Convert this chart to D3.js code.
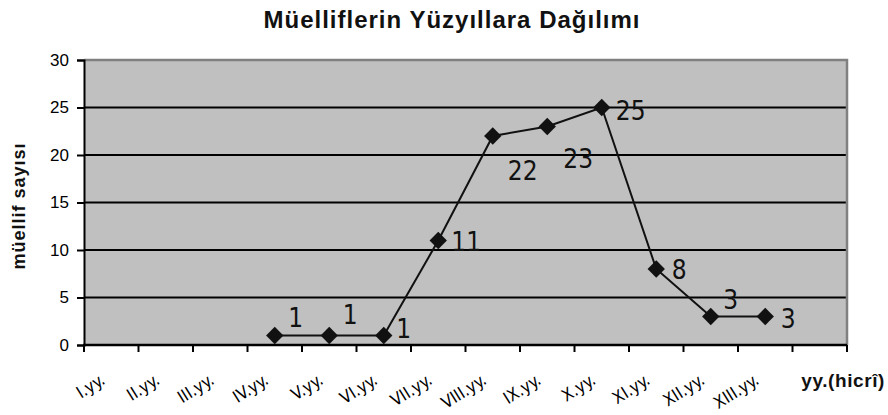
<!DOCTYPE html>
<html>
<head>
<meta charset="utf-8">
<script src="https://cdn.jsdelivr.net/npm/d3@7"></script>
<style>
  body { margin: 0; background: #fff; }
  svg { display: block; }
</style>
</head>
<body>
<div class="canvas"></div>
<script>
// chart data
const centuries = ['I.yy.', 'II.yy.', 'III.yy.', 'IV.yy.', 'V.yy.', 'VI.yy.', 'VII.yy.',
  'VIII.yy.', 'IX.yy.', 'X.yy.', 'XI.yy.', 'XII.yy.', 'XIII.yy.', ''];
const authors = [null, null, null, 1, 1, 1, 11, 22, 23, 25, 8, 3, 3, null];
const yTicks = [0, 5, 10, 15, 20, 25, 30];

// label nudges (px) - where each value label sits beside its marker
const labelNudge = [null, null, null, [21, -9], [21, -12], [20, 2], [28, 10],
  [30, 44], [31, 41], [29, 12], [23, 10], [20, -8], [23, 11], null];

const dims = { width: 888, height: 415 };
const plot = { left: 84, right: 847, top: 60, bottom: 345 };

const svg = d3.select('.canvas')
  .append('svg')
  .attr('width', dims.width)
  .attr('height', dims.height);

const x = d3.scaleBand()
  .domain(d3.range(centuries.length))
  .range([plot.left, plot.right])
  .padding(0);

const y = d3.scaleLinear()
  .domain([0, 30])
  .range([plot.bottom, plot.top]);

// plot background
svg.append('rect')
  .attr('x', plot.left)
  .attr('y', plot.top)
  .attr('width', plot.right - plot.left)
  .attr('height', plot.bottom - plot.top)
  .attr('fill', '#c0c0c0');

// gridlines
svg.append('g')
  .selectAll('line')
  .data(yTicks.filter(d => d > 0 && d < 30))
  .enter().append('line')
    .attr('x1', plot.left)
    .attr('x2', plot.right)
    .attr('y1', d => y(d))
    .attr('y2', d => y(d))
    .attr('stroke', '#000')
    .attr('stroke-width', 2);

// top & right border (grey)
svg.append('path')
  .attr('d', `M${plot.left},${plot.top}H${plot.right}V${plot.bottom}`)
  .attr('fill', 'none')
  .attr('stroke', '#808080')
  .attr('stroke-width', 2.5);

// y axis
const yAxis = d3.axisLeft(y)
  .tickValues(yTicks)
  .tickSize(7)
  .tickPadding(8);

const yAxisGroup = svg.append('g')
  .attr('transform', `translate(${plot.left}, 0)`)
  .call(yAxis);

yAxisGroup.select('.domain').attr('stroke', '#000').attr('stroke-width', 2);
yAxisGroup.selectAll('line').attr('stroke', '#000').attr('stroke-width', 2);
yAxisGroup.selectAll('text')
  .attr('font-family', 'Liberation Sans, Arial, sans-serif')
  .attr('font-size', 17)
  .attr('fill', '#000');

// x axis - ticks at the band edges
const xEdges = d3.range(centuries.length).map(i => x(i)).concat([plot.right]);

svg.append('line')
  .attr('x1', plot.left - 1)
  .attr('x2', plot.right)
  .attr('y1', plot.bottom)
  .attr('y2', plot.bottom)
  .attr('stroke', '#000')
  .attr('stroke-width', 2.5);

svg.append('g')
  .selectAll('line')
  .data(xEdges)
  .enter().append('line')
    .attr('x1', d => d)
    .attr('x2', d => d)
    .attr('y1', plot.bottom)
    .attr('y2', plot.bottom + 7)
    .attr('stroke', '#000')
    .attr('stroke-width', 2);

// rotated category labels
svg.append('g')
  .selectAll('text')
  .data(centuries)
  .enter().append('text')
    .attr('transform', (d, i) =>
      `translate(${x(i) + x.bandwidth() / 2 - 5}, ${plot.bottom + 38}) rotate(-32)`)
    .attr('text-anchor', 'end')
    .attr('font-family', 'Liberation Sans Narrow, DejaVu Sans Condensed, Arial, sans-serif')
    .attr('font-size', 17)
    .attr('fill', '#000')
    .text(d => d);

// series points
const points = authors
  .map((v, i) => ({ i, v, nudge: labelNudge[i] }))
  .filter(d => d.v !== null);

const line = d3.line()
  .x(d => x(d.i) + x.bandwidth() / 2)
  .y(d => y(d.v));

svg.append('path')
  .datum(points)
  .attr('d', line)
  .attr('fill', 'none')
  .attr('stroke', '#111')
  .attr('stroke-width', 2);

const diamond = d3.symbol().type(d3.symbolSquare).size(150);

svg.append('g')
  .selectAll('path')
  .data(points)
  .enter().append('path')
    .attr('d', diamond)
    .attr('transform', d =>
      `translate(${x(d.i) + x.bandwidth() / 2}, ${y(d.v)}) rotate(45)`)
    .attr('fill', '#111');

// value labels
svg.append('g')
  .selectAll('text')
  .data(points)
  .enter().append('text')
    .attr('x', d => x(d.i) + x.bandwidth() / 2 + d.nudge[0])
    .attr('y', d => y(d.v) + d.nudge[1])
    .attr('text-anchor', 'middle')
    .attr('font-family', 'Liberation Sans Narrow, DejaVu Sans Condensed, Arial, sans-serif')
    .attr('font-size', 26)
    .attr('fill', '#111')
    .text(d => d.v);

// title
svg.append('text')
  .attr('x', 452)
  .attr('y', 28)
  .attr('text-anchor', 'middle')
  .attr('font-family', 'Liberation Sans, Arial, sans-serif')
  .attr('font-weight', 'bold')
  .attr('font-size', 24)
  .attr('letter-spacing', 1)
  .attr('fill', '#111')
  .text('Müelliflerin Yüzyıllara Dağılımı');

// y axis title
svg.append('text')
  .attr('transform', `translate(25, 206) rotate(-90)`)
  .attr('text-anchor', 'middle')
  .attr('font-family', 'Liberation Sans, Arial, sans-serif')
  .attr('font-weight', 'bold')
  .attr('font-size', 18)
  .attr('letter-spacing', 1)
  .attr('fill', '#111')
  .text('müellif sayısı');

// x axis title
svg.append('text')
  .attr('x', 885)
  .attr('y', 387)
  .attr('text-anchor', 'end')
  .attr('font-family', 'Liberation Sans, Arial, sans-serif')
  .attr('font-weight', 'bold')
  .attr('font-size', 19)
  .attr('letter-spacing', 0.6)
  .attr('fill', '#111')
  .text('yy.(hicrî)');
</script>
</body>
</html>
